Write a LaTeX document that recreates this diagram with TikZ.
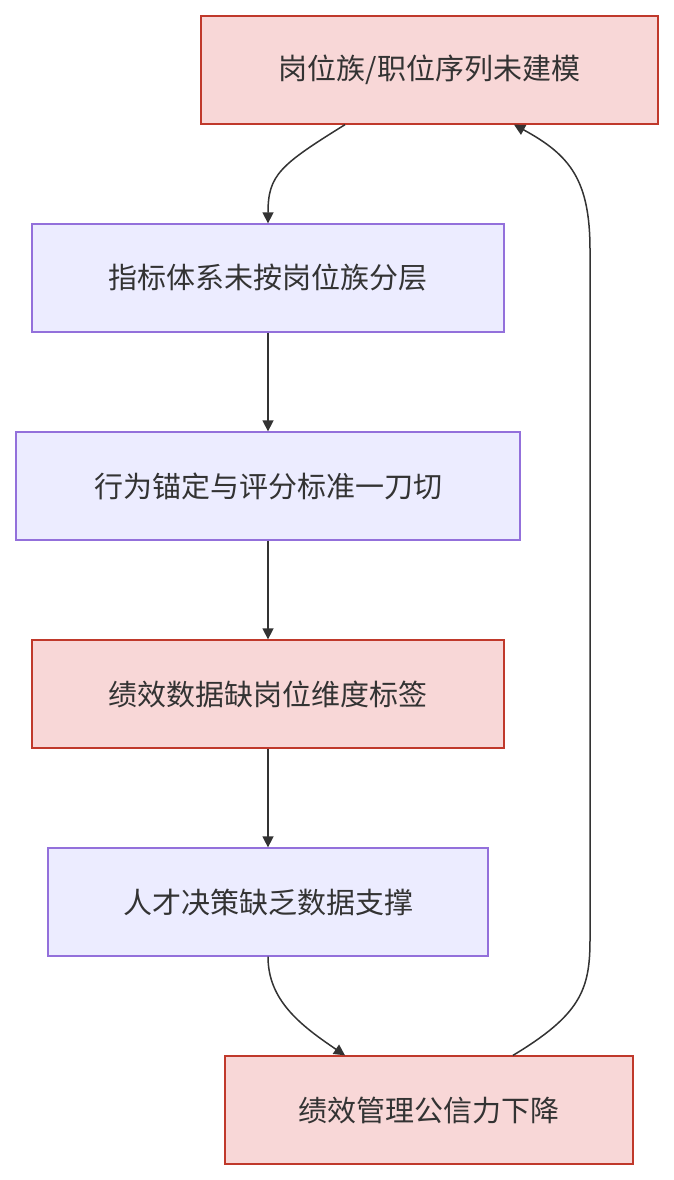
\documentclass[tikz,border=0pt]{standalone}
\usepackage{fontspec}
\newfontfamily\cjk{Noto Sans CJK SC}
\usetikzlibrary{arrows.meta}
\definecolor{pk}{HTML}{F8D7D7}
\definecolor{pkb}{HTML}{C0392B}
\definecolor{lv}{HTML}{ECECFF}
\definecolor{lvb}{HTML}{9370DB}
\definecolor{ln}{HTML}{333333}
\begin{document}
\begin{tikzpicture}[x=1pt,y=-1pt,
  base/.style={draw,line width=1.3pt,inner sep=0pt,font=\cjk\fontsize{29}{32}\selectfont,text=ln},
  red/.style={base,fill=pk,draw=pkb},
  lav/.style={base,fill=lv,draw=lvb},
  arr/.style={draw=ln,line width=1.5pt,-{Triangle[length=11pt,width=11pt]}}]
\useasboundingbox (0,0) rectangle (673,1180);
\node[red,minimum width=457pt,minimum height=108pt] (a) at (429.5,70) {岗位族/职位序列未建模};
\node[lav,minimum width=472pt,minimum height=108pt] (b) at (268,278) {指标体系未按岗位族分层};
\node[lav,minimum width=504pt,minimum height=108pt] (c) at (268,486) {行为锚定与评分标准一刀切};
\node[red,minimum width=472pt,minimum height=108pt] (d) at (268,694) {绩效数据缺岗位维度标签};
\node[lav,minimum width=440pt,minimum height=108pt] (e) at (268,902) {人才决策缺乏数据支撑};
\node[red,minimum width=408pt,minimum height=108pt] (f) at (429,1110) {绩效管理公信力下降};
\draw[arr] (a.south -| 345,0) .. controls (280,165) and (268,175) .. (b.north);
\draw[arr] (b) -- (c);
\draw[arr] (c) -- (d);
\draw[arr] (d) -- (e);
\draw[arr] (e.south) .. controls (268,1000) and (300,1025) .. (f.north -| 345,0);
\draw[arr] (f.north -| 513,0) .. controls (580,1015) and (590,990) .. (590,940) -- (590,250) .. controls (590,180) and (570,155) .. (a.south -| 514,0);
\end{tikzpicture}
\end{document}
